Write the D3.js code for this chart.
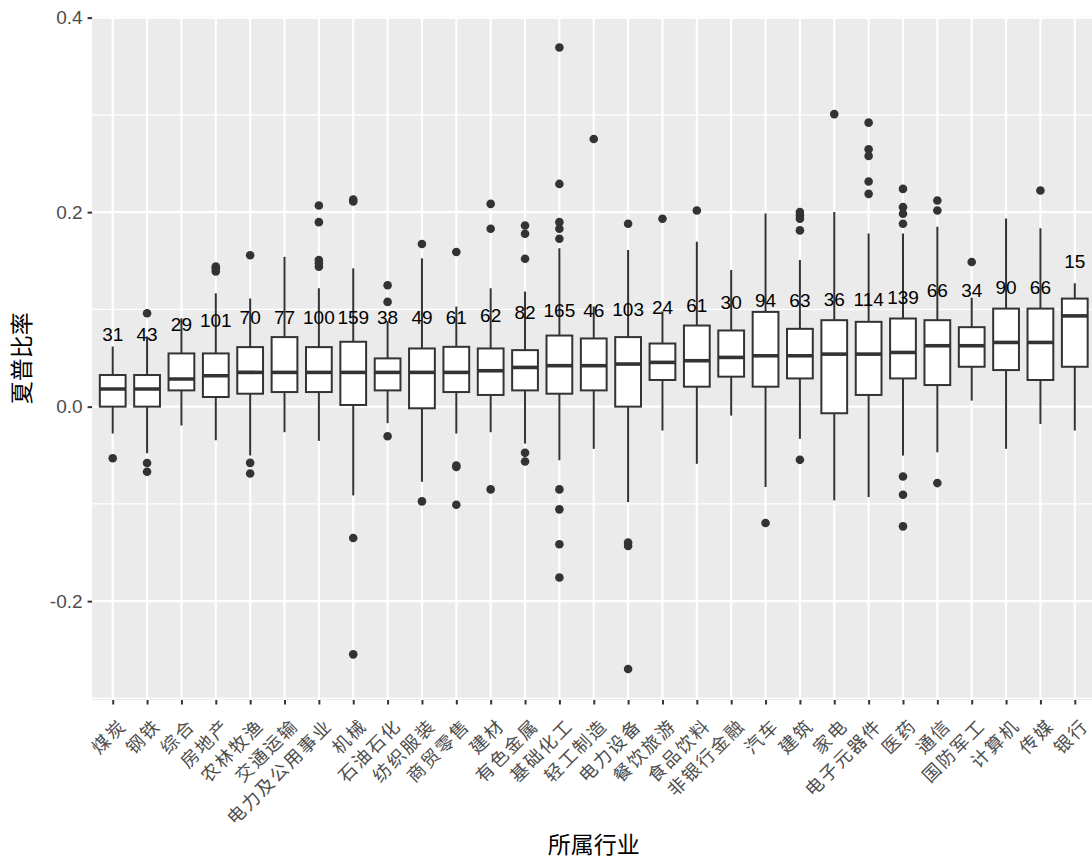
<!DOCTYPE html>
<html><head><meta charset="utf-8">
<script src="https://cdn.jsdelivr.net/npm/d3@7"></script>
<style>
html,body{margin:0;padding:0;background:#fff;}
svg{display:block;}
</style>
</head><body>
<svg id="chart" width="1092" height="861"></svg>
<script>
const categories = ["煤炭","钢铁","综合","房地产","农林牧渔","交通运输","电力及公用事业","机械","石油石化","纺织服装","商贸零售","建材","有色金属","基础化工","轻工制造","电力设备","餐饮旅游","食品饮料","非银行金融","汽车","建筑","家电","电子元器件","医药","通信","国防军工","计算机","传媒","银行"];
const counts = [31,43,29,101,70,77,100,159,38,49,61,62,82,165,46,103,24,61,30,94,63,36,114,139,66,34,90,66,15];
const whiskerLow = [-0.0277,-0.048,-0.0195,-0.0345,-0.0503,-0.0263,-0.0352,-0.0913,-0.0170,-0.0773,-0.0277,-0.0263,-0.038,-0.0551,-0.0434,-0.0981,-0.0246,-0.0588,-0.0092,-0.0827,-0.0331,-0.0964,-0.093,-0.0503,-0.0469,0.0062,-0.0434,-0.0178,-0.0246];
const q1 = [0.0,0.0,0.0167,0.0099,0.0133,0.015,0.015,0.0017,0.0167,-0.0017,0.015,0.012,0.0167,0.0133,0.0167,0.0,0.0274,0.0205,0.0308,0.0205,0.029,-0.0068,0.012,0.029,0.0222,0.041,0.0376,0.0274,0.041];
const medians = [0.0181,0.0181,0.0284,0.0318,0.0352,0.0352,0.0352,0.0352,0.0352,0.0352,0.0352,0.0369,0.0403,0.0421,0.0421,0.0438,0.0455,0.0472,0.0506,0.0523,0.0523,0.054,0.054,0.0557,0.0626,0.0626,0.066,0.066,0.0933];
const q3 = [0.0325,0.0325,0.0547,0.0547,0.0612,0.0715,0.0612,0.0667,0.0496,0.0598,0.0615,0.0598,0.0581,0.0731,0.0701,0.0715,0.0649,0.0834,0.0783,0.0974,0.080,0.0889,0.0872,0.0906,0.0889,0.0817,0.1008,0.1008,0.1111];
const whiskerHigh = [0.0619,0.072,0.091,0.1166,0.1111,0.154,0.1217,0.1422,0.088,0.1525,0.1029,0.1217,0.1183,0.1628,0.103,0.161,0.098,0.1696,0.1405,0.1987,0.1508,0.2,0.1781,0.1781,0.1849,0.112,0.1935,0.1833,0.1269];
const outliers = [
  [-0.053],
  [0.096,-0.058,-0.067],
  [],
  [0.144,0.142,0.139],
  [0.1556,-0.0578,-0.0687],
  [],
  [0.2068,0.1897,0.1508,0.1474,0.1439],
  [0.213,0.211,-0.135,-0.2547],
  [0.1248,0.1077,-0.0304],
  [0.1672,-0.0974],
  [0.159,-0.0605,-0.062,-0.1009],
  [0.2085,0.1829,-0.0851],
  [0.1863,0.1777,0.1521,-0.0475,-0.0564],
  [0.3692,0.229,0.1897,0.1829,0.1726,-0.0851,-0.1056,-0.1415,-0.1757],
  [0.2752],
  [0.188,-0.1398,-0.1433,-0.2697],
  [0.1932],
  [0.2017],
  [],
  [-0.1197],
  [0.2,0.1966,0.1932,0.1812,-0.0547],
  [0.3008],
  [0.292,0.2646,0.2578,0.2315,0.2188],
  [0.2239,0.2051,0.1983,0.188,-0.0718,-0.0906,-0.1231],
  [0.212,0.2017,-0.0786],
  [0.1487],
  [],
  [0.2222],
  []
];
const yTicks = [-0.2,0.0,0.2,0.4];
const yTickLabels = ["-0.2","0.0","0.2","0.4"];
const xTitle = "所属行业";
const yTitle = "夏普比率";

const rows = categories.map((c,i)=>({cat:c,n:counts[i],lo:whiskerLow[i],q1:q1[i],med:medians[i],q3:q3[i],hi:whiskerHigh[i],out:outliers[i]}));

const svg = d3.select("#chart");
const P = {left:92.1, right:1095.4, top:16.5, bottom:700};

const allVals = rows.flatMap(r=>[r.lo,r.hi,...r.out]);
const [mn,mx] = d3.extent(allVals);
const ex = (mx-mn)*0.05;
const y = d3.scaleLinear().domain([mn-ex, mx+ex]).range([P.bottom,P.top]);
const x = d3.scalePoint().domain(categories).range([P.left,P.right]).padding(0.6);
const bw = x.step()*0.75;

const CJK = "'Noto Sans CJK SC','Noto Sans CJK JP',sans-serif";
const LAT = "'Liberation Sans',Arial,sans-serif";

svg.append("defs").append("clipPath").attr("id","clip")
  .append("rect").attr("x",P.left).attr("y",P.top).attr("width",P.right-P.left).attr("height",P.bottom-P.top);

const panel = svg.append("g").attr("clip-path","url(#clip)");
panel.append("rect").attr("x",P.left).attr("y",P.top).attr("width",P.right-P.left).attr("height",P.bottom-P.top).attr("fill","#EBEBEB");

// minor grid
const minor = [];
for(let i=0;i<yTicks.length-1;i++) minor.push((yTicks[i]+yTicks[i+1])/2);
minor.push(yTicks[0]-(yTicks[1]-yTicks[0])/2);
minor.push(yTicks[yTicks.length-1]+(yTicks[1]-yTicks[0])/2);
const [d0,d1]=y.domain();
panel.selectAll("line.minor").data(minor.filter(v=>v>=d0&&v<=d1)).join("line")
  .attr("x1",P.left).attr("x2",P.right).attr("y1",d=>y(d)).attr("y2",d=>y(d))
  .attr("stroke","#fff").attr("stroke-width",1.1);
panel.selectAll("line.majy").data(yTicks).join("line")
  .attr("x1",P.left).attr("x2",P.right).attr("y1",d=>y(d)).attr("y2",d=>y(d))
  .attr("stroke","#fff").attr("stroke-width",2.1);
panel.selectAll("line.majx").data(categories).join("line")
  .attr("y1",P.top).attr("y2",P.bottom).attr("x1",d=>x(d)).attr("x2",d=>x(d))
  .attr("stroke","#fff").attr("stroke-width",2.1);

const stroke="#333333";
const g = panel.selectAll("g.box").data(rows).join("g");
g.append("line").attr("x1",d=>x(d.cat)).attr("x2",d=>x(d.cat)).attr("y1",d=>y(d.hi)).attr("y2",d=>y(d.q3)).attr("stroke",stroke).attr("stroke-width",2);
g.append("line").attr("x1",d=>x(d.cat)).attr("x2",d=>x(d.cat)).attr("y1",d=>y(d.q1)).attr("y2",d=>y(d.lo)).attr("stroke",stroke).attr("stroke-width",2);
g.append("rect").attr("x",d=>x(d.cat)-bw/2).attr("width",bw).attr("y",d=>y(d.q3)).attr("height",d=>y(d.q1)-y(d.q3))
  .attr("fill","#fff").attr("stroke",stroke).attr("stroke-width",2);
g.append("line").attr("x1",d=>x(d.cat)-bw/2).attr("x2",d=>x(d.cat)+bw/2).attr("y1",d=>y(d.med)).attr("y2",d=>y(d.med)).attr("stroke",stroke).attr("stroke-width",3.6);
g.selectAll("circle").data(d=>d.out.map(v=>({cat:d.cat,v}))).join("circle")
  .attr("cx",d=>x(d.cat)).attr("cy",d=>y(d.v)).attr("r",4.3).attr("fill",stroke);

// count labels
const labelOffset = 0.0567;
panel.selectAll("text.n").data(rows).join("text")
  .attr("x",d=>x(d.cat)).attr("y",d=>y(d.med+labelOffset)).attr("dy","0.36em")
  .attr("text-anchor","middle").attr("font-family",LAT).attr("font-size",19).attr("fill","#000")
  .text(d=>d.n);

// y axis
const yAxis = d3.axisLeft(y).tickValues(yTicks).tickFormat((d,i)=>yTickLabels[i]).tickSize(4.5).tickPadding(5);
const ya = svg.append("g").attr("transform",`translate(${P.left},0)`).call(yAxis);
ya.select(".domain").remove();
ya.selectAll(".tick line").attr("stroke","#333333").attr("stroke-width",2);
ya.selectAll(".tick text").attr("font-family",LAT).attr("font-size",19).attr("fill","#4D4D4D");

// x axis
const xAxis = d3.axisBottom(x).tickSize(4.5).tickPadding(0);
const xa = svg.append("g").attr("transform",`translate(0,${P.bottom})`).call(xAxis);
xa.select(".domain").remove();
xa.selectAll(".tick line").attr("stroke","#333333").attr("stroke-width",2);
xa.selectAll(".tick text")
  .attr("font-family",CJK).attr("font-size",18).attr("letter-spacing","2px").attr("fill","#4D4D4D")
  .attr("text-anchor","end").attr("dominant-baseline","hanging")
  .attr("x",2.5).attr("y",15).attr("dy",null)
  .attr("transform","rotate(-45 2.5 15)");

// titles
svg.append("text").attr("x",(P.left+P.right)/2).attr("y",845).attr("dy","0.36em")
  .attr("text-anchor","middle").attr("font-family",CJK).attr("font-size",23).attr("fill","#000").text(xTitle);
svg.append("text").attr("transform",`translate(22,${(P.top+P.bottom)/2}) rotate(-90)`).attr("dy","0.36em")
  .attr("text-anchor","middle").attr("font-family",CJK).attr("font-size",23).attr("fill","#000").text(yTitle);
</script>
</body></html>
